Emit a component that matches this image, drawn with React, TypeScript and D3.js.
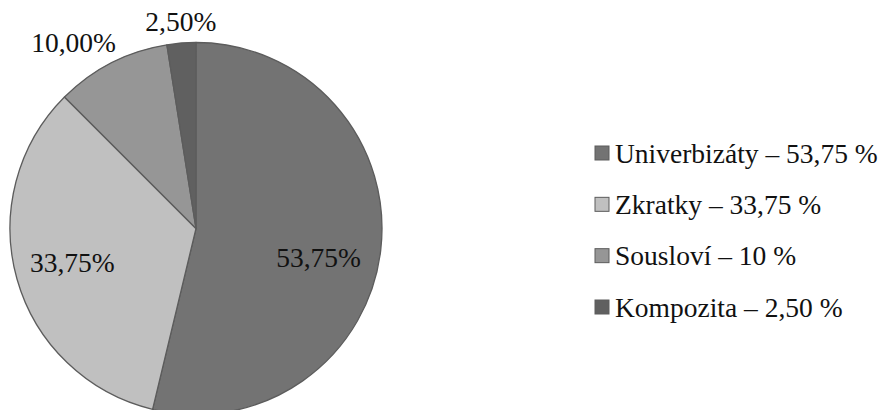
import React from "react";
import * as d3 from "d3";

const categories = ["Univerbizáty", "Zkratky", "Sousloví", "Kompozita"];
const values = [53.75, 33.75, 10, 2.5];
const sliceLabels = ["53,75%", "33,75%", "10,00%", "2,50%"];
const legendLabels = ["Univerbizáty – 53,75 %", "Zkratky – 33,75 %", "Sousloví – 10 %", "Kompozita – 2,50 %"];
const colors = ["#737373", "#c0c0c0", "#969696", "#606060"];

const W = 884;
const H = 410;
const cx = 196;
const cy = 228.5;
const R = 186;
const FONT = "'Liberation Serif', 'DejaVu Serif', serif";
const FS = 27.5;

export default function App() {
  const pie = d3.pie<number>().sort(null).value((d) => d);
  const arcs = pie(values);
  const arc = d3.arc<d3.PieArcDatum<number>>().innerRadius(0).outerRadius(R);
  const labelArc = d3.arc<d3.PieArcDatum<number>>().innerRadius(R * 0.68).outerRadius(R * 0.68);

  const legendY = d3.scalePoint<string>().domain(categories).range([153, 307]);

  return (
    <svg width={W} height={H} style={{ position: "absolute", left: 0, top: 0, background: "#fff" }} fontFamily={FONT}>
      <g transform={`translate(${cx},${cy})`}>
        {arcs.map((a, i) => (
          <path key={i} d={arc(a) || ""} fill={colors[i]} stroke="#5c5c5c" strokeWidth={1.3} strokeLinejoin="round" />
        ))}
        {arcs.map((a, i) => {
          const share = values[i] / d3.sum(values);
          const mid = (a.startAngle + a.endAngle) / 2;
          if (share > 0.2) {
            const [x, y] = labelArc.centroid(a);
            const yAdj = i === 0 ? 14 : 0;
            const xAdj = i === 0 ? -3 : -2;
            return (
              <text key={i} x={x + xAdj} y={y + yAdj} textAnchor="middle" dominantBaseline="central" fontSize={FS} fill="#111">
                {sliceLabels[i]}
              </text>
            );
          }
          const rr = R + 8;
          const px = Math.sin(mid) * rr;
          const py = -Math.cos(mid) * rr;
          const anchor = Math.abs(Math.sin(mid)) < 0.2 ? "middle" : Math.sin(mid) < 0 ? "end" : "start";
          return (
            <text key={i} x={px + (anchor === "end" ? 8 : 0)} y={py - 4} textAnchor={anchor} fontSize={FS} fill="#111">
              {sliceLabels[i]}
            </text>
          );
        })}
      </g>
      <g>
        {categories.map((c, i) => {
          const y = legendY(c) as number;
          return (
            <g key={c}>
              <rect x={595} y={y - 7} width={14} height={14} fill={colors[i]} stroke="#5c5c5c" strokeWidth={1} />
              <text x={615} y={y} dominantBaseline="central" fontSize={FS} fill="#111">
                {legendLabels[i]}
              </text>
            </g>
          );
        })}
      </g>
    </svg>
  );
}
